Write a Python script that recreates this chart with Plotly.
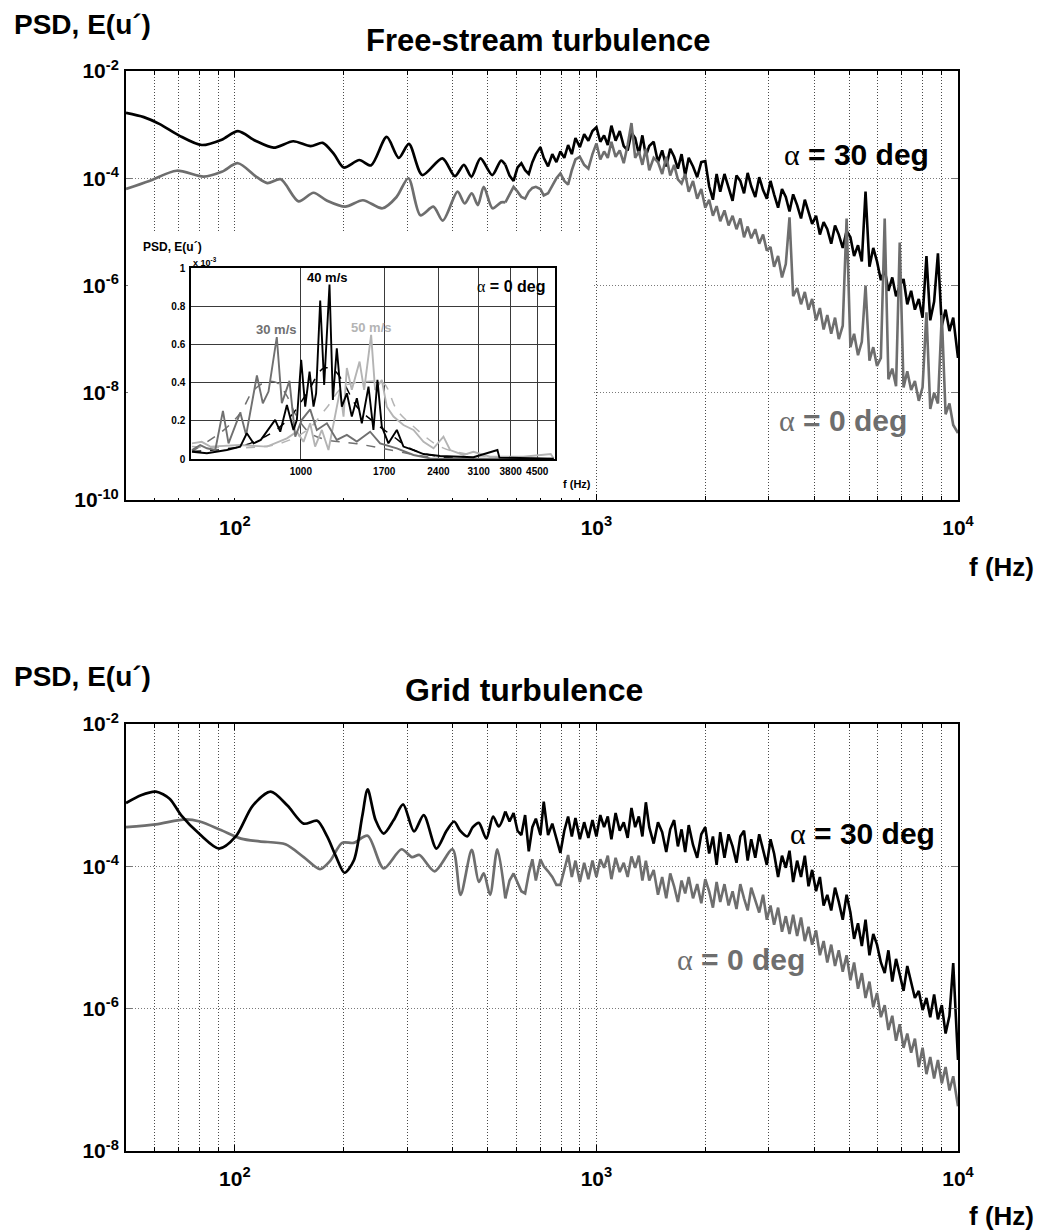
import numpy as np
import plotly.graph_objects as go

W, H = 1042, 1230
FONT = "Liberation Sans, Arial, Helvetica, sans-serif"
BLACK = "#000000"
GRAY = "#6e6e6e"

# ---------------- data (PSD given as log10 values) ----------------
# shared high-frequency grid (Hz)
f_hi = [560, 575, 590, 605, 620, 635, 650, 665, 680,
        700, 715, 735, 755, 775, 795, 815, 835, 855, 875, 900, 925, 950, 975,
        1000, 1025, 1050, 1075, 1100,
        1130, 1160, 1190, 1220, 1250, 1280, 1310, 1340, 1370,
        1400, 1440, 1480, 1520, 1560, 1600, 1640, 1680, 1720, 1760,
        1800, 1850, 1900, 1950, 2000, 2050, 2100, 2150, 2200,
        2260, 2320, 2380, 2440, 2500, 2560, 2620, 2680,
        2750, 2820, 2890, 2960, 3030, 3100,
        3180, 3260, 3340, 3420, 3500,
        3590, 3680, 3770, 3860, 3950,
        4050, 4150, 4250, 4350,
        4460, 4570, 4680, 4800, 4920,
        5040, 5160, 5290, 5420, 5550,
        5690, 5830, 5970, 6120, 6270, 6420,
        6580, 6740, 6900, 7070, 7240, 7420, 7600,
        7790, 7980, 8180, 8380, 8590, 8800,
        9020, 9240, 9470, 9700, 10000]

# Free-stream turbulence, alpha = 30 deg
free30_f_lo = [50, 56, 62, 70, 81, 92, 102, 114, 128, 145, 162, 175, 188, 200, 221,
               238, 263, 284, 303, 330, 375, 406, 430, 451, 478, 515, 545]
free30_lg_lo = [-2.78, -2.86, -2.99, -3.20, -3.38, -3.28, -3.12, -3.30, -3.43, -3.31,
                -3.40, -3.34, -3.55, -3.80, -3.66, -3.76, -3.23, -3.62, -3.36, -3.94,
                -3.63, -3.96, -3.75, -3.97, -3.63, -3.94, -3.67]
free30_lg_hi = [-3.75, -3.95, -4.05, -3.80, -3.72, -3.85, -3.92, -3.70, -3.55,
                -3.42, -3.62, -3.78, -3.55, -3.70, -3.50, -3.62, -3.38, -3.55, -3.25, -3.42, -3.18, -3.30, -3.12,
                -3.05, -3.32, -3.20, -3.38, -3.02,
                -3.30, -3.12, -3.40, -3.48, -3.15, -3.25, -3.55, -3.20, -3.58,
                -3.40, -3.32, -3.70, -3.48, -3.78, -3.45, -3.60, -3.82, -3.55, -3.95,
                -3.62, -3.78, -3.98, -3.70, -3.68, -4.15, -4.40, -3.92, -4.25,
                -3.92, -4.18, -4.42, -3.95, -4.05, -4.28, -3.90, -4.15,
                -4.35, -3.98, -4.22, -4.38, -4.05, -4.30,
                -4.55, -4.20, -4.35, -4.62, -4.30,
                -4.50, -4.75, -4.40, -4.62, -4.85,
                -4.70, -5.05, -4.82, -4.95,
                -5.22, -4.88, -5.05, -5.30, -4.98,
                -5.10, -5.45, -5.25, -5.55, -4.25,
                -5.65, -5.30, -5.55, -5.90, -5.70, -6.10,
                -5.85, -6.20, -6.00, -5.88, -6.35, -6.10, -6.45,
                -6.25, -6.60, -5.45, -6.65, -6.30, -5.40,
                -6.75, -6.45, -6.85, -6.60, -7.35]

# Free-stream turbulence, alpha = 0 deg
free0_f_lo = [50, 58, 69, 82, 92, 102, 115, 123, 134, 150, 165, 180, 202, 226, 256,
              280, 302, 326, 354, 376, 413, 432, 452, 470, 488, 516, 545]
free0_lg_lo = [-4.20, -4.05, -3.86, -3.97, -3.88, -3.72, -3.98, -4.09, -4.02, -4.43,
               -4.27, -4.42, -4.53, -4.41, -4.56, -4.35, -4.00, -4.69, -4.53, -4.79,
               -4.25, -4.47, -4.28, -4.50, -4.16, -4.56, -4.45]
free0_lg_hi = [-4.45, -4.30, -4.16, -4.25, -4.35, -4.38, -4.25, -4.18, -4.16,
               -4.20, -4.32, -4.28, -4.15, -4.00, -3.91, -4.05, -4.12, -3.85, -3.65, -3.60, -3.75, -3.82, -3.55,
               -3.35, -3.65, -3.50, -3.62, -3.32,
               -3.60, -3.48, -3.72, -3.38, -2.97, -3.62, -3.50, -3.75, -3.45,
               -3.85, -3.62, -3.70, -3.92, -3.60, -3.95, -3.75, -4.02, -4.10, -3.92,
               -4.25, -4.05, -4.38, -4.20, -4.55, -4.40, -4.70, -4.52, -4.80,
               -4.60, -4.88, -4.70, -4.95, -4.75, -5.10, -4.90, -5.12,
               -4.95, -5.22, -5.05, -5.35, -5.28, -5.65,
               -5.45, -5.85, -5.60, -4.73, -6.20,
               -6.05, -6.35, -6.12, -6.45, -6.25,
               -6.65, -6.42, -6.82, -6.55,
               -6.90, -6.60, -7.00, -6.75, -4.75,
               -7.15, -6.90, -7.30, -7.05, -6.00,
               -7.40, -7.15, -7.50, -7.35, -4.75, -7.75,
               -7.55, -7.88, -5.20, -7.90, -7.60, -7.95, -7.78,
               -8.15, -7.90, -6.50, -8.30, -8.00, -8.20,
               -6.55, -8.40, -8.20, -8.60, -8.75]

# Grid turbulence, alpha = 30 deg
grid30_f_lo = [50, 55, 60.5, 66, 71, 80, 90.5, 100.6, 112, 125.7, 140, 155, 169, 180,
               190, 201, 213.6, 225, 233, 245, 258, 275, 292, 313, 333, 361, 385,
               404, 420, 439, 455, 473, 496, 518, 537]
grid30_lg_lo = [-3.11, -3.00, -2.95, -3.05, -3.28, -3.55, -3.75, -3.58, -3.15, -2.95,
                -3.15, -3.40, -3.36, -3.58, -3.85, -4.09, -3.91, -3.30, -2.92, -3.35,
                -3.54, -3.35, -3.13, -3.51, -3.28, -3.75, -3.50, -3.37, -3.50, -3.58,
                -3.45, -3.39, -3.61, -3.30, -3.44]
grid30_lg_hi = [-3.23, -3.37, -3.25, -3.50, -3.56, -3.28, -3.79, -3.45, -3.33,
                -3.56, -3.09, -3.56, -3.40, -3.60, -3.81, -3.50, -3.30, -3.58, -3.32, -3.62, -3.38, -3.60, -3.35,
                -3.58, -3.28, -3.45, -3.30, -3.62,
                -3.25, -3.50, -3.38, -3.60, -3.18, -3.45, -3.30, -3.58, -3.10,
                -3.45, -3.68, -3.38, -3.52, -3.80, -3.48, -3.35, -3.72, -3.48, -3.80,
                -3.42, -3.70, -3.88, -3.55, -3.45, -3.82, -3.58, -3.98, -3.52,
                -3.88, -3.55, -3.72, -3.95, -3.58, -3.50, -3.92, -3.62,
                -3.88, -3.55, -3.75, -3.98, -3.62, -3.82,
                -4.15, -3.85, -4.02, -3.78, -4.22,
                -3.92, -4.15, -3.85, -4.28, -4.05,
                -4.35, -4.15, -4.55, -4.40,
                -4.62, -4.30, -4.50, -4.75, -4.40,
                -4.65, -5.02, -4.80, -5.12, -4.75,
                -5.25, -4.95, -5.10, -5.35, -5.50, -5.18,
                -5.62, -5.30, -5.52, -5.75, -5.40, -5.65, -5.85,
                -5.75, -6.02, -5.85, -6.12, -5.80, -6.15,
                -5.95, -6.35, -6.10, -5.36, -6.72]

# Grid turbulence, alpha = 0 deg
grid0_f_lo = [50, 60.5, 73, 80, 91.5, 104, 117, 138, 155, 172, 183, 198, 213, 233, 258,
              289, 309, 324, 357, 400, 421, 452, 473, 488, 508, 532]
grid0_lg_lo = [-3.45, -3.41, -3.34, -3.37, -3.49, -3.61, -3.65, -3.69, -3.87, -4.04,
               -3.93, -3.67, -3.67, -3.57, -4.03, -3.76, -3.87, -3.84, -4.07, -3.76,
               -4.40, -3.77, -4.22, -4.10, -4.40, -3.76]
grid0_lg_hi = [-4.45, -4.20, -4.10, -4.24, -4.35, -4.38, -4.10, -3.90, -4.20,
               -3.90, -4.00, -4.07, -4.15, -4.26, -4.26, -4.05, -3.84, -4.15, -3.92, -4.22, -3.95, -4.18, -3.92,
               -4.15, -3.90, -4.02, -3.85, -4.18,
               -3.88, -4.08, -3.95, -4.15, -3.86, -4.02, -3.85, -4.20, -3.92,
               -4.20, -4.05, -4.40, -4.15, -4.45, -4.10, -4.28, -4.50, -4.20, -4.38,
               -4.15, -4.45, -4.25, -4.52, -4.18, -4.35, -4.58, -4.22, -4.50,
               -4.25, -4.55, -4.35, -4.60, -4.25, -4.45, -4.62, -4.30,
               -4.48, -4.65, -4.40, -4.75, -4.55, -4.82,
               -4.58, -4.92, -4.70, -4.95, -4.68,
               -4.98, -4.72, -5.05, -4.85, -5.10,
               -4.90, -5.25, -5.05, -5.35,
               -5.10, -5.40, -5.18, -5.48, -5.25,
               -5.60, -5.35, -5.72, -5.50, -5.85,
               -5.62, -5.98, -5.78, -6.12, -5.95, -6.30,
               -6.10, -6.45, -6.22, -6.55, -6.35, -6.62, -6.42,
               -6.82, -6.55, -6.92, -6.68, -6.98, -6.72,
               -7.05, -6.82, -7.15, -6.95, -7.37]

# Inset (linear PSD, units of 1e-3), alpha = 0 deg
in30_f = [500, 527, 550, 580, 609, 631, 680, 706, 756, 785, 814, 858, 886, 930, 965,
          1006, 1061, 1107, 1180, 1257, 1340, 1428, 1554, 1656, 1842, 2048, 2277, 5000]
in30_v = [0.047, 0.073, 0.056, 0.047, 0.252, 0.082, 0.243, 0.126, 0.437, 0.292, 0.353,
          0.638, 0.292, 0.409, 0.117, 0.205, 0.260, 0.152, 0.187, 0.100, 0.126, 0.091,
          0.143, 0.082, 0.056, 0.021, 0.003, 0.0]
in30_fit_f = [500, 611, 680, 740, 806, 858, 915, 975, 1061, 1180, 1428, 1963, 2426]
in30_fit_v = [0.04, 0.15, 0.24, 0.36, 0.405, 0.40, 0.33, 0.22, 0.135, 0.10, 0.08, 0.03, 0.0]

in40_f = [500, 550, 624, 680, 709, 740, 775, 823, 849, 877, 915, 954, 975, 1002, 1028,
          1057, 1084, 1102, 1131, 1160, 1200, 1226, 1257, 1298, 1340, 1383, 1428, 1474,
          1538, 1587, 1628, 1674, 1746, 1842, 1921, 2048, 2183, 2426, 2999, 3494, 3539, 5000]
in40_v = [0.038, 0.030, 0.047, 0.065, 0.135, 0.082, 0.100, 0.170, 0.205, 0.143, 0.283,
          0.152, 0.205, 0.519, 0.274, 0.458, 0.274, 0.344, 0.830, 0.388, 0.913, 0.309,
          0.580, 0.274, 0.344, 0.222, 0.318, 0.187, 0.379, 0.152, 0.414, 0.170, 0.082,
          0.152, 0.065, 0.047, 0.026, 0.016, 0.009, 0.047, 0.007, 0.002]
in40_fit_f = [500, 680, 840, 934, 1039, 1155, 1231, 1312, 1428, 1587, 1803, 2048, 2426, 3000]
in40_fit_v = [0.04, 0.065, 0.143, 0.22, 0.344, 0.475, 0.467, 0.40, 0.274, 0.196, 0.117,
              0.047, 0.012, 0.0]

in50_f = [500, 532, 562, 680, 806, 915, 975, 1017, 1061, 1095, 1143, 1192, 1284, 1312,
          1340, 1383, 1453, 1496, 1564, 1604, 1674, 1728, 1803, 1921, 2048, 2183, 2326,
          2478, 2585, 2815, 2999, 3334, 4122, 4905, 5000]
in50_v = [0.082, 0.090, 0.065, 0.073, 0.065, 0.108, 0.143, 0.090, 0.187, 0.065, 0.152,
          0.047, 0.362, 0.222, 0.476, 0.362, 0.510, 0.362, 0.650, 0.362, 0.414, 0.274,
          0.222, 0.178, 0.152, 0.090, 0.056, 0.117, 0.047, 0.021, 0.038, 0.012, 0.012,
          0.026, 0.003]
in50_fit_f = [500, 840, 1039, 1180, 1312, 1522, 1692, 1842, 2048, 2426, 2999, 5000]
in50_fit_v = [0.065, 0.073, 0.15, 0.27, 0.38, 0.406, 0.397, 0.257, 0.17, 0.065, 0.021, 0.003]

inset_xticks = [1000, 1700, 2400, 3100, 3800, 4500]
inset_yticks = [0, 0.2, 0.4, 0.6, 0.8, 1]

# ---------------- figure ----------------
def pw(v):
    return [10.0 ** x for x in v]


def px(x):
    return x / W


def py(y):
    return 1 - y / H


fig = go.Figure()


def add_series(f_lo, lg_lo, lg_hi, color, xa, ya):
    fig.add_trace(go.Scatter(
        x=f_lo + [f_hi[0]], y=pw(lg_lo + [lg_hi[0]]), mode="lines",
        line=dict(color=color, width=2.7, shape="spline", smoothing=0.8),
        xaxis=xa, yaxis=ya, showlegend=False, hoverinfo="skip"))
    fig.add_trace(go.Scatter(
        x=f_hi, y=pw(lg_hi), mode="lines",
        line=dict(color=color, width=2.6),
        xaxis=xa, yaxis=ya, showlegend=False, hoverinfo="skip"))


# top panel: black then gray
add_series(free30_f_lo, free30_lg_lo, free30_lg_hi, BLACK, "x", "y")
add_series(free0_f_lo, free0_lg_lo, free0_lg_hi, GRAY, "x", "y")
# bottom panel: gray then black
add_series(grid0_f_lo, grid0_lg_lo, grid0_lg_hi, GRAY, "x2", "y2")
add_series(grid30_f_lo, grid30_lg_lo, grid30_lg_hi, BLACK, "x2", "y2")

# empty white panel that hides the main grid behind the inset
fig.add_trace(go.Scatter(x=[], y=[], xaxis="x3", yaxis="y3", showlegend=False,
                         hoverinfo="skip"))

# inset traces
for ff, vv, col, dash, wd, shp in [
    (in30_fit_f, in30_fit_v, "#707070", "dash", 1.5, "spline"),
    (in50_fit_f, in50_fit_v, "#b4b4b4", "dash", 1.5, "spline"),
    (in40_fit_f, in40_fit_v, "#000000", "dash", 1.5, "spline"),
    (in50_f, in50_v, "#b4b4b4", "solid", 1.9, "linear"),
    (in30_f, in30_v, "#707070", "solid", 1.9, "linear"),
    (in40_f, in40_v, "#000000", "solid", 1.9, "linear"),
]:
    fig.add_trace(go.Scatter(x=ff, y=vv, mode="lines",
                             line=dict(color=col, width=wd, dash=dash, shape=shp),
                             xaxis="x4", yaxis="y4", showlegend=False, hoverinfo="skip"))

minor_vals = [60, 70, 80, 90, 200, 300, 400, 500, 600, 700, 800, 900,
              2000, 3000, 4000, 5000, 6000, 7000, 8000, 9000]
tickfont = dict(size=21, color="black", family=FONT, weight="bold")
GRIDC = "#4a4a4a"
DOT = "1px,2px"


def xaxis_cfg(anchor):
    return dict(
        type="log", range=[np.log10(50), 4], anchor=anchor, automargin=False,
        domain=[px(126), px(958)],
        tickmode="array", tickvals=[100, 1000, 10000],
        ticktext=["10<sup>2</sup>", "10<sup>3</sup>", "10<sup>4</sup>"],
        showgrid=True, gridcolor=GRIDC, griddash=DOT, gridwidth=1,
        minor=dict(tickmode="array", tickvals=minor_vals, showgrid=True,
                   gridcolor=GRIDC, griddash=DOT, gridwidth=1,
                   ticks="inside", ticklen=4, tickcolor="black"),
        ticks="inside", ticklen=6, tickcolor="black",
        showline=True, linecolor="black", linewidth=2, mirror="ticks",
        tickfont=tickfont, ticklabelstandoff=8, zeroline=False)


def yaxis_cfg(anchor, dom, rng, vals):
    return dict(
        type="log", range=rng, anchor=anchor, domain=dom, automargin=False,
        tickmode="array", tickvals=[10.0 ** v for v in vals],
        ticktext=["10<sup>%d</sup>" % v for v in vals],
        showgrid=True, gridcolor="#7a7a7a", griddash=DOT, gridwidth=1,
        ticks="inside", ticklen=6, tickcolor="#777",
        showline=True, linecolor="black", linewidth=2, mirror="ticks",
        tickfont=tickfont, ticklabelstandoff=1, zeroline=False)


hidden = dict(showgrid=False, showticklabels=False, showline=False, zeroline=False,
              ticks="", range=[0, 1], automargin=False)
inset_font = dict(size=10, color="black", family=FONT, weight="bold")

fig.update_layout(
    template="none",
    width=W, height=H, autosize=False,
    margin=dict(l=0, r=0, t=0, b=0, pad=0),
    paper_bgcolor="white", plot_bgcolor="white",
    font=dict(family=FONT, color="black"),
    showlegend=False,
    xaxis=xaxis_cfg("y"),
    yaxis=yaxis_cfg("x", [py(500), py(71)], [-10, -2], [-10, -8, -6, -4, -2]),
    xaxis2=xaxis_cfg("y2"),
    yaxis2=yaxis_cfg("x2", [py(1151), py(724)], [-8, -2], [-8, -6, -4, -2]),
    xaxis3=dict(hidden, anchor="y3", domain=[px(128), px(594)]),
    yaxis3=dict(hidden, anchor="x3", domain=[py(498), py(233)]),
    xaxis4=dict(type="log", range=[np.log10(497), np.log10(5040)], anchor="y4",
                domain=[px(191), px(555)], automargin=False,
                tickmode="array", tickvals=inset_xticks,
                ticktext=[str(v) for v in inset_xticks],
                showgrid=True, gridcolor="#3a3a3a", gridwidth=1.2,
                ticks="", showline=True, linecolor="black", linewidth=1.5, mirror=True,
                tickfont=inset_font, ticklabelstandoff=2, zeroline=False),
    yaxis4=dict(range=[0, 1], anchor="x4", domain=[py(459), py(268)], automargin=False,
                tickmode="array", tickvals=inset_yticks,
                ticktext=["0", "0.2", "0.4", "0.6", "0.8", "1"],
                showgrid=True, gridcolor="#3a3a3a", gridwidth=1.2,
                ticks="", showline=True, linecolor="black", linewidth=1.5, mirror=True,
                tickfont=inset_font, ticklabelstandoff=2, zeroline=False),
)

ALPHA = '<span style="font-family:Liberation Serif;font-weight:normal">α</span>'


def ann(text, x, y, size, color="black", xanchor="center"):
    fig.add_annotation(text=text, xref="paper", yref="paper", x=px(x), y=py(y),
                       xanchor=xanchor, yanchor="middle", showarrow=False,
                       font=dict(size=size, color=color, family=FONT, weight="bold"))


ann("PSD, E(u´)", 82, 24, 28)
ann("Free-stream turbulence", 538, 41, 31)
ann("f (Hz)", 1036, 567, 26, xanchor="right")
ann(ALPHA + " = 30 deg", 856, 155, 30)
ann(ALPHA + " = 0 deg", 843, 420, 30, color=GRAY)

ann("PSD, E(u´)", 82, 676, 28)
ann("Grid turbulence", 524, 690, 32)
ann("f (Hz)", 1036, 1216, 26, xanchor="right")
ann(ALPHA + " = 30 deg", 862, 833, 30)
ann(ALPHA + " = 0 deg", 741, 959, 30, color=GRAY)

# inset labels
ann("PSD, E(u´)", 172, 247, 12)
ann("x 10<sup>-3</sup>", 191, 262, 9, xanchor="left")
ann("40 m/s", 327, 277, 13)
ann("30 m/s", 276, 329, 13, color="#707070")
ann("50 m/s", 371, 327, 13, color="#b4b4b4")
ann(ALPHA + " = 0 deg", 511, 286, 16)
ann("f (Hz)", 577, 484, 11)

POST = (
    "document.documentElement.style.margin='0px';"
    "document.body.style.margin='0px';"
    "document.body.style.overflow='hidden';"
    "var gd=document.getElementById('{plot_id}');"
    "gd.style.position='absolute';gd.style.left='0px';gd.style.top='0px';"
)

fig.write_html(
    "out.html",
    config={"responsive": False, "displayModeBar": False},
    post_script=POST,
)
